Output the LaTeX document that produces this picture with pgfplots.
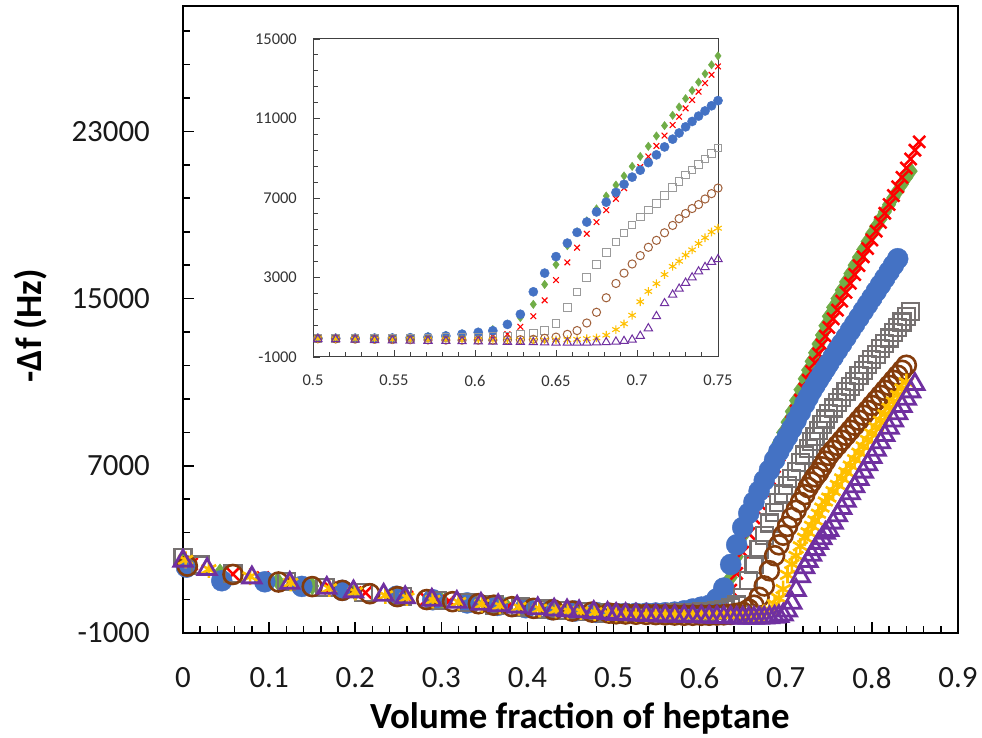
\documentclass[border=0pt]{standalone}
\usepackage{fontspec}
\setmainfont{Carlito}
\usepackage{pgfplots}
\usepackage{pgfplotstable}
\pgfplotsset{compat=1.18}
\definecolor{cB}{HTML}{4472C4}
\definecolor{cR}{HTML}{FF0000}
\definecolor{cG}{HTML}{70AD47}
\definecolor{cS}{HTML}{767171}
\definecolor{cO}{HTML}{843C0C}
\definecolor{cY}{HTML}{FFC000}
\definecolor{cP}{HTML}{7030A0}
\definecolor{cSi}{HTML}{9A9A9A}
\definecolor{cOi}{HTML}{A0603A}

\pgfplotstableread{
x b r g s o y p
0.503 -60 -50 -40 -60 -80 -80 -100
0.514 -60 -50 -40 -60 -90 -90 -110
0.526 -55 -45 -40 -60 -100 -100 -130
0.538 -50 -40 -35 -60 -110 -110 -150
0.549 -45 -35 -30 -60 -120 -120 -170
0.560 -30 -30 -10 -50 -130 -120 -180
0.571 0 -20 30 -40 -140 -130 -190
0.582 60 -10 90 -30 -150 -130 -200
0.592 150 0 160 -20 -150 -140 -210
0.602 240 20 250 0 -150 -140 -220
0.611 320 40 380 30 -150 -150 -230
0.620 640 150 650 60 -140 -150 -240
0.628 1150 520 980 130 -130 -150 -250
0.636 2280 1050 1650 210 -110 -150 -260
0.643 3220 1850 2650 340 -60 -150 -270
0.650 4050 2870 3650 700 0 -140 -280
0.657 4730 3760 4600 1500 140 -130 -280
0.663 5270 4500 5300 2270 330 -110 -280
0.669 5790 5200 5850 3010 710 -80 -280
0.675 6300 5790 6450 3660 1250 -40 -270
0.681 6790 6390 7100 4260 1980 100 -260
0.687 7280 6960 7650 4780 2700 380 -230
0.692 7690 7500 8110 5230 3220 670 -200
0.697 8050 8030 8590 5650 3680 1100 -130
0.702 8400 8560 9090 6050 4100 1780 60
0.707 8780 9090 9600 6400 4520 2300 440
0.712 9170 9620 10120 6730 4870 2690 1050
0.717 9570 10140 10640 7140 5250 3150 1700
0.722 9960 10670 11160 7520 5620 3560 2130
0.726 10270 11090 11580 7830 5960 3820 2430
0.730 10580 11510 12000 8160 6220 4130 2730
0.734 10850 11930 12410 8400 6470 4390 3000
0.738 11120 12350 12830 8700 6670 4710 3300
0.742 11380 12780 13250 8970 6950 5000 3520
0.746 11640 13200 13700 9240 7220 5290 3780
0.750 11900 13620 14150 9510 7500 5480 3920
0.755 12210 14030 14580 9770 7740 5790 4270
0.760 12530 14450 15000 10030 7980 6090 4620
0.765 12840 14880 15400 10280 8220 6400 4970
0.770 13150 15300 15800 10540 8460 6710 5320
0.775 13470 15730 16200 10800 8700 7010 5670
0.780 13780 16150 16600 11050 8940 7320 6010
0.785 14090 16580 16980 11310 9180 7630 6360
0.790 14410 17000 17350 11570 9420 7930 6710
0.795 14720 17400 17730 11830 9650 8240 7060
0.800 15030 17800 18100 12080 9890 8550 7410
0.805 15350 18230 18450 12340 10130 8850 7760
0.810 15660 18650 18800 12600 10370 9160 8110
0.815 15970 19080 19150 12850 10610 9470 8460
0.820 16290 19500 19500 13110 10850 9780 8810
0.825 16600 19930 19830 13370 11090 10080 9160
0.830 16910 20350 20150 13630 11330 10390 9500
0.835 nan 20800 20480 13880 11570 10700 9850
0.840 nan 21250 20800 14140 11810 11000 10200
0.845 nan 21680 21100 14400 nan nan 10550
0.850 nan 22100 nan nan nan nan 10900
0.855 nan 22500 nan nan nan nan nan
}\dense

\pgfplotstableread{
x y
0.004 2150
0.045 1500
0.095 1450
0.138 1230
0.185 1040
0.248 760
0.290 590
0.330 440
0.365 320
0.398 210
0.428 120
0.455 50
0.480 -20
}\lowB
\pgfplotstableread{
x y
0.010 2300
0.058 1820
0.093 1650
0.130 1380
0.171 1150
0.212 930
0.260 720
0.283 620
0.309 530
0.334 430
0.355 360
0.378 280
0.396 220
0.425 140
0.442 90
0.458 50
0.473 10
0.489 -30
}\lowR
\pgfplotstableread{
x y
0.000 2350
0.043 1880
0.110 1480
0.150 1250
0.200 970
0.250 760
0.300 560
0.340 410
0.375 290
0.405 200
0.432 110
0.458 45
0.483 -15
}\lowG
\pgfplotstableread{
x y
0.000 2600
0.020 2250
0.058 1850
0.120 1450
0.165 1170
0.210 940
0.255 740
0.295 570
0.330 450
0.362 340
0.392 240
0.420 150
0.446 80
0.470 20
0.492 -40
}\lowS
\pgfplotstableread{
x y
0.005 2200
0.058 1800
0.111 1440
0.150 1220
0.185 1040
0.217 880
0.249 740
0.283 600
0.313 500
0.343 400
0.361 330
0.382 260
0.407 180
0.430 110
0.452 50
0.475 0
0.495 -50
}\lowO
\pgfplotstableread{
x y
0.003 2500
0.030 2050
0.078 1700
0.125 1400
0.170 1140
0.200 970
0.235 800
0.260 700
0.290 580
0.320 480
0.347 380
0.368 310
0.390 240
0.414 160
0.433 110
0.447 60
0.462 30
0.478 -10
0.494 -50
}\lowY
\pgfplotstableread{
x y
0.000 2450
0.028 2050
0.080 1650
0.124 1390
0.167 1150
0.198 980
0.233 820
0.258 700
0.289 580
0.318 480
0.346 390
0.366 320
0.388 250
0.412 170
0.431 110
0.446 70
0.460 30
0.477 -10
0.493 -50
}\lowP

\pgfplotsset{
  mB/.style={only marks, mark=*, mark size=10.5bp, color=cB},
  mG/.style={only marks, mark=diamond*, mark size=9bp, color=cG},
  mR/.style={only marks, mark=x, mark size=8.5bp, line width=2.5bp, color=cR},
  mS/.style={only marks, mark=square, mark size=8.5bp, line width=2.2bp, color=cS},
  mO/.style={only marks, mark=o, mark size=9.5bp, line width=2.6bp, color=cO},
  mY/.style={only marks, mark=asterisk, mark size=8.5bp, line width=2.6bp, color=cY},
  mP/.style={only marks, mark=triangle, mark size=10.5bp, line width=2.8bp, color=cP},
  iB/.style={only marks, mark=*, mark size=4.6bp, color=cB},
  iG/.style={only marks, mark=diamond*, mark size=4.2bp, color=cG},
  iR/.style={only marks, mark=x, mark size=4bp, line width=1.1bp, color=cR},
  iS/.style={only marks, mark=square, mark size=3.8bp, line width=1bp, color=cSi},
  iO/.style={only marks, mark=o, mark size=4.1bp, line width=1bp, color=cOi},
  iY/.style={only marks, mark=asterisk, mark size=4.3bp, line width=1.1bp, color=cY},
  iP/.style={only marks, mark=triangle, mark size=4.8bp, line width=1bp, color=cP},
}

\begin{document}
\begin{tikzpicture}
\path[use as bounding box] (0,0) rectangle (982bp,738bp);
\begin{axis}[
  at={(183bp,105bp)}, anchor=south west,
  scale only axis, width=775bp, height=627bp,
  xmin=0, xmax=0.9, ymin=-1000, ymax=29000,
  clip=false,
  axis line style={line width=2bp, black},
  tick pos=left, tick align=inside,
  major tick length=11bp, minor tick length=7bp,
  tick style={line width=1.6bp, black},
  xtick={0,0.1,0.2,0.3,0.4,0.5,0.6,0.7,0.8,0.9},
  xticklabels={0,0.1,0.2,0.3,0.4,0.5,0.6,0.7,0.8,0.9},
  minor x tick num=4,
  ytick={-1000,7000,15000,23000},
  yticklabels={-1000,7000,15000,23000},
  minor ytick={600,2200,3800,5400,8600,10200,11800,13400,16600,18200,19800,21400,24600,26200,27800},
  scaled ticks=false,
  tick label style={font=\fontsize{31}{31}\selectfont, text=black!90, inner sep=0pt},
  xticklabel style={anchor=north, yshift=-34bp},
  yticklabel style={anchor=east, xshift=-33bp},
  xlabel={\bfseries Volume fraction of heptane},
  ylabel={\bfseries -Δf (Hz)},
  label style={font=\fontsize{37}{37}\selectfont},
  xlabel style={at={(axis description cs:0.512,-0.137)}, anchor=center},
  ylabel style={at={(axis description cs:-0.196,0.49)}, anchor=center},
]
\addplot[mG] table[x=x,y=y] {\lowG};
\addplot[mG] table[x=x,y=g] {\dense};
\addplot[mR] table[x=x,y=y] {\lowR};
\addplot[mR] table[x=x,y=r] {\dense};
\addplot[mB] table[x=x,y=y] {\lowB};
\addplot[mB] table[x=x,y=b] {\dense};
\addplot[mS] table[x=x,y=y] {\lowS};
\addplot[mS] table[x=x,y=s] {\dense};
\addplot[mO] table[x=x,y=y] {\lowO};
\addplot[mO] table[x=x,y=o] {\dense};
\addplot[mY] table[x=x,y=y] {\lowY};
\addplot[mY] table[x=x,y=y] {\dense};
\addplot[mP] table[x=x,y=y] {\lowP};
\addplot[mP] table[x=x,y=p] {\dense};
\end{axis}

\begin{axis}[
  at={(313bp,381bp)}, anchor=south west,
  scale only axis, width=405bp, height=318bp,
  xmin=0.5, xmax=0.75, ymin=-1000, ymax=15000,
  axis background/.style={fill=white},
  clip=false,
  restrict x to domain=0.499:0.7505,
  axis line style={line width=1bp, black!75},
  tick pos=left, tick align=inside,
  major tick length=7bp, minor tick length=4.5bp,
  tick style={line width=0.8bp, black!75},
  xtick={0.5,0.55,0.6,0.65,0.7,0.75},
  xticklabels={0.5,0.55,0.6,0.65,0.7,0.75},
  minor x tick num=4,
  ytick={-1000,3000,7000,11000,15000},
  yticklabels={-1000,3000,7000,11000,15000},
  minor y tick num=4,
  scaled ticks=false,
  tick label style={font=\fontsize{16.5}{16.5}\selectfont, text=black!80, inner sep=0pt},
  xticklabel style={anchor=north, yshift=-18bp},
  yticklabel style={anchor=east, xshift=-16bp},
]
\addplot[iG] table[x=x,y=g] {\dense};
\addplot[iR] table[x=x,y=r] {\dense};
\addplot[iB] table[x=x,y=b] {\dense};
\addplot[iS] table[x=x,y=s] {\dense};
\addplot[iO] table[x=x,y=o] {\dense};
\addplot[iY] table[x=x,y=y] {\dense};
\addplot[iP] table[x=x,y=p] {\dense};
\end{axis}
\end{tikzpicture}
\end{document}
